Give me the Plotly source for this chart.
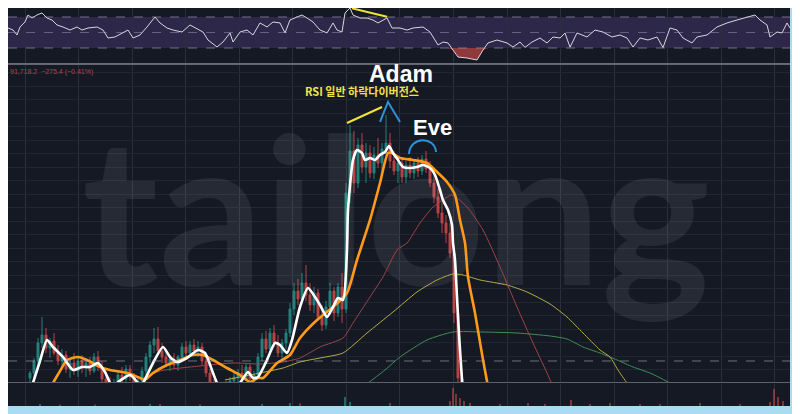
import plotly.graph_objects as go

# ---------------- data (time index t, price units) ----------------
candle_t = list(range(30, 467, 4))
candle_open = [5, 10, 22, 40, 48, 35, 42, 30, 22, 28, 14, 20, 12, 22, 16, 20, 12, 26, 16, 4,
               -4, -8, 0, 8, 4, 14, 6, -4, 2, 12, 26, 38, 44, 32, 26, 20, 24, 18, 26, 36,
               30, 38, 32, 36, 22, 10, -2, -8, -14, -10, -2, 2, 6, 10, 4, 16, 4, 8, 26, 44,
               34, 50, 40, 30, 40, 50, 74, 92, 84, 100, 88, 78, 90, 66, 58, 76, 92, 70, 96, 74,
               190, 232, 200, 238, 216, 230, 210, 228, 220, 234, 240, 222, 212, 220, 206, 218, 210, 220, 212, 224,
               214, 200, 186, 170, 160, 150, 130, 70, 5, -30]
candle_high = [12, 25, 45, 66, 55, 45, 50, 38, 34, 32, 24, 30, 26, 28, 24, 26, 30, 32, 22, 10,
               6, 4, 12, 16, 18, 18, 10, 6, 16, 30, 42, 55, 56, 40, 34, 28, 30, 28, 40, 42,
               42, 44, 42, 40, 26, 14, 4, 0, -4, 2, 6, 10, 14, 18, 20, 20, 12, 30, 50, 52,
               55, 58, 48, 44, 54, 80, 100, 104, 110, 118, 100, 96, 94, 78, 82, 100, 96, 100, 110, 200,
               258, 252, 245, 250, 240, 238, 236, 245, 240, 268, 250, 232, 226, 224, 222, 226, 224, 226, 228, 232,
               222, 212, 194, 180, 168, 160, 138, 80, 12, -20]
candle_low = [-5, 5, 18, 35, 30, 25, 28, 18, 15, 10, 5, 8, 6, 10, 6, 8, 10, 12, 0, -10,
              -15, -12, -4, 0, 0, 2, -8, -10, -2, 8, 20, 30, 28, 20, 16, 12, 14, 12, 22, 24,
              26, 28, 26, 18, 6, -6, -14, -20, -22, -14, -8, -4, 0, 2, 2, 0, -4, 6, 22, 30,
              30, 36, 26, 24, 34, 46, 68, 78, 80, 82, 72, 70, 62, 52, 54, 70, 62, 66, 60, 70,
              180, 190, 195, 210, 200, 205, 204, 215, 212, 225, 215, 208, 200, 200, 200, 205, 204, 206, 208, 210,
              196, 180, 165, 150, 140, 125, 60, -10, -40, -60]
candle_close = [10, 22, 40, 48, 35, 42, 30, 22, 28, 14, 20, 12, 22, 16, 20, 12, 26, 16, 4, -4,
                -8, 0, 8, 4, 14, 6, -4, 2, 12, 26, 38, 44, 32, 26, 20, 24, 18, 26, 36, 30,
                38, 32, 36, 22, 10, -2, -8, -14, -10, -2, 2, 6, 10, 4, 16, 4, 8, 26, 44, 34,
                50, 40, 30, 40, 50, 74, 92, 84, 100, 88, 78, 90, 66, 58, 76, 92, 70, 96, 74, 190,
                232, 200, 238, 216, 230, 210, 228, 220, 234, 240, 222, 212, 220, 206, 218, 210, 220, 212, 224, 214,
                200, 186, 170, 160, 150, 130, 70, 5, -30, -50]

# short MA (white)
ma_white_t = [33, 40, 47, 53, 63, 73, 82, 90, 98, 105, 110, 113, 117, 130, 138, 140, 143, 153, 163, 170,
              177, 187, 198, 205, 213, 217, 225, 235, 240, 248, 253, 258, 267, 275, 280, 287, 292, 300, 308, 315,
              320, 327, 333, 338, 343, 347, 348, 353, 357, 362, 365, 370, 375, 380, 385, 389, 393, 398, 403, 410,
              417, 423, 430, 435, 440, 443, 448, 452, 453, 455, 458, 462, 466]
ma_white = [0, 22, 43, 36, 26, 13, 16, 16, 20, 11, 0, -5, 0, 8, 0, -3, 0, 20, 36, 26,
            21, 25, 33, 30, 10, 0, -15, -5, 0, 11, 5, 6, 23, 40, 38, 30, 43, 76, 95, 86,
            78, 66, 76, 85, 83, 133, 173, 223, 233, 230, 223, 225, 223, 228, 231, 237, 230, 223, 216, 215,
            216, 218, 215, 208, 193, 183, 173, 158, 140, 123, 66, 3, -40]

# mid MA (orange)
ma_orange_t = [53, 60, 67, 78, 87, 100, 110, 127, 140, 145, 153, 167, 180, 193, 203, 213, 227, 240, 250, 258,
               263, 277, 290, 300, 317, 333, 347, 357, 370, 380, 388, 392, 400, 413, 427, 437, 447, 455, 460, 465,
               468, 475, 482, 488, 492]
ma_orange = [0, 12, 23, 26, 23, 16, 13, 10, 5, 3, 10, 18, 23, 28, 28, 23, 15, 8, 1, 5,
             5, 20, 28, 45, 63, 76, 90, 123, 163, 200, 230, 230, 225, 223, 220, 211, 201, 188, 163, 140,
             106, 70, 29, -3, -20]

# long MAs (thin)
ma_red_t = [140, 160, 200, 233, 260, 283, 300, 320, 343, 353, 370, 383, 397, 407, 420, 433, 440, 452, 467, 483,
            500, 517, 533, 547, 555]
ma_red = [3, 12, 17, 20, 19, 21, 25, 36, 45, 60, 86, 106, 133, 140, 160, 176, 181, 188, 176, 153,
          116, 76, 40, 10, -8]
ma_yellow_t = [225, 260, 283, 300, 320, 343, 367, 393, 417, 437, 453, 463, 480, 507, 527, 550, 567, 583, 600, 610,
               618, 627, 632]
ma_yellow = [3, 10, 15, 21, 25, 30, 50, 71, 91, 103, 109, 108, 103, 98, 91, 79, 66, 50, 33, 26,
             13, 0, -6]
ma_green_t = [350, 368, 385, 400, 427, 453, 483, 517, 550, 567, 583, 600, 617, 633, 650, 670, 676]
ma_green = [-12, 0, 13, 26, 43, 51, 51, 50, 47, 44, 36, 30, 23, 16, 10, 0, -4]

# RSI
rsi_t = [8, 13, 17, 20, 25, 28, 32, 37, 42, 47, 52, 57, 63, 70, 77, 82, 88, 97, 103, 108,
         115, 123, 128, 133, 140, 147, 155, 160, 167, 173, 182, 190, 195, 203, 208, 217, 223, 230, 233, 240,
         247, 253, 260, 267, 273, 280, 285, 290, 297, 302, 307, 313, 320, 327, 333, 337, 342, 345, 350, 353,
         360, 367, 373, 378, 387, 392, 400, 407, 413, 423, 430, 438, 443, 448, 453, 458, 467, 477, 483, 488,
         497, 507, 513, 520, 525, 532, 540, 547, 553, 560, 565, 570, 577, 587, 595, 603, 612, 620, 627, 633,
         640, 648, 657, 663, 670, 677, 683, 692, 697, 707, 717, 727, 737, 747, 755, 760, 767, 770, 777, 782,
         787, 790]
rsi = [55.8, 53.2, 46.8, 57.1, 63.5, 72.6, 68.7, 72.6, 75.2, 68.7, 66.1, 59.7, 57.1, 53.2, 57.1, 53.2, 55.8, 57.1, 53.2, 42.9,
       44.2, 49.4, 53.2, 42.9, 46.8, 57.1, 70.0, 62.3, 55.8, 53.2, 50.6, 59.7, 55.8, 50.6, 40.3, 31.3, 37.7, 49.4, 37.7, 50.6,
       53.2, 46.8, 62.3, 57.1, 63.5, 62.3, 49.4, 66.1, 70.0, 72.6, 68.7, 63.5, 53.2, 49.4, 62.3, 53.2, 50.6, 75.2, 81.6, 72.6,
       68.7, 68.7, 66.1, 62.3, 68.7, 55.8, 55.8, 53.2, 55.8, 57.1, 50.6, 33.9, 37.7, 36.5, 27.4, 18.4, 17.1, 14.5, 27.4, 36.5,
       40.3, 36.5, 31.3, 37.7, 30.8, 37.7, 42.9, 36.5, 44.2, 42.9, 49.4, 31.0, 49.4, 44.2, 53.2, 50.6, 44.2, 46.8, 42.9, 31.3,
       42.9, 40.3, 44.2, 30.5, 55.8, 53.2, 42.9, 36.5, 44.2, 46.8, 57.1, 62.3, 66.1, 70.0, 72.6, 66.1, 59.7, 44.2, 50.6, 49.4,
       62.3, 55.8]

# volume
vol_t = [40, 60, 95, 150, 160, 200, 262, 290, 300, 345, 350, 390, 450, 453, 456, 460, 464, 470,
         500, 528, 545, 571, 590, 610, 640, 660, 700, 740, 770, 774, 778, 783]
vol = [2, 1.5, 1.5, 2, 2, 1.5, 2, 3, 2.5, 9, 4, 3, 5, 18, 12, 8, 5, 3,
       2, 3, 2, 6, 2, 3, 2, 2, 3, 2, 4, 17, 9, 5]
vol_up = [1, 0, 0, 1, 0, 0, 1, 1, 0, 1, 1, 0, 0, 0, 0, 0, 0, 0,
          0, 0, 0, 0, 0, 0, 0, 0, 0, 0, 0, 0, 0, 0]

# ---------------- figure ----------------
BG = "#151924"
UP = "#26a69a"
DN = "#ef5350"

fig = go.Figure()

# watermark (drawn first so it sits behind everything)
fig.add_trace(go.Scatter(x=[396], y=[149], mode="text", text=["tailong"], xaxis="x", yaxis="y",
                         textfont=dict(family="Lato", size=206, color="rgba(255,255,255,0.075)", weight="bold"),
                         cliponaxis=False, showlegend=False, hoverinfo="skip"))

fig.add_trace(go.Candlestick(
    x=candle_t, open=candle_open, high=candle_high, low=candle_low, close=candle_close,
    xaxis="x", yaxis="y", opacity=0.75, whiskerwidth=0,
    increasing=dict(line=dict(color=UP, width=1), fillcolor=UP),
    decreasing=dict(line=dict(color=DN, width=1), fillcolor=DN),
    showlegend=False, hoverinfo="skip"))

for tt, vv, col, w in [(ma_green_t, ma_green, "#3f8f58", 1),
                       (ma_yellow_t, ma_yellow, "#b4ad45", 1),
                       (ma_red_t, ma_red, "#9c4448", 1),
                       (ma_orange_t, ma_orange, "#ff9a1a", 2.6),
                       (ma_white_t, ma_white, "#ffffff", 2.6)]:
    fig.add_trace(go.Scatter(x=tt, y=vv, mode="lines", xaxis="x", yaxis="y",
                             line=dict(color=col, width=w, shape="spline", smoothing=0.6),
                             showlegend=False, hoverinfo="skip"))

# RSI oversold fill
fx = [t for t in rsi_t if 448 <= t <= 488]
fy = [min(v, 30) for t, v in zip(rsi_t, rsi) if 448 <= t <= 488]
fig.add_trace(go.Scatter(x=fx, y=[30] * len(fx), mode="lines", line=dict(width=0),
                         xaxis="x2", yaxis="y2", showlegend=False, hoverinfo="skip"))
fig.add_trace(go.Scatter(x=fx, y=fy, mode="lines", line=dict(width=0), fill="tonexty",
                         fillcolor="rgba(175,65,65,0.8)",
                         xaxis="x2", yaxis="y2", showlegend=False, hoverinfo="skip"))
fig.add_trace(go.Scatter(x=rsi_t, y=rsi, mode="lines", line=dict(color="#d6d6de", width=1),
                         xaxis="x2", yaxis="y2", showlegend=False, hoverinfo="skip"))

# Volume
fig.add_trace(go.Bar(x=vol_t, y=vol, width=1.6, xaxis="x3", yaxis="y3",
                     marker=dict(color=["rgba(38,166,154,0.7)" if u else "rgba(239,83,80,0.6)" for u in vol_up],
                                 line=dict(width=0)),
                     showlegend=False, hoverinfo="skip"))

grid_x = dict(showgrid=True, gridcolor="#2b2f3b", gridwidth=1, tick0=25, dtick=53.57,
              showticklabels=False, zeroline=False, ticks="", showline=False)

fig.update_layout(
    width=800, height=414,
    margin=dict(l=0, r=18, t=0, b=16),
    paper_bgcolor="#a8dcf3", plot_bgcolor=BG,
    xaxis=dict(domain=[0, 1], range=[8, 790], anchor="y", rangeslider=dict(visible=False), **grid_x),
    xaxis2=dict(domain=[0, 1], matches="x", anchor="y2", **grid_x),
    xaxis3=dict(domain=[0, 1], matches="x", anchor="y3", **grid_x),
    yaxis=dict(domain=[0.0578, 0.8568], range=[0, 318], tick0=13, dtick=13.5, showgrid=True,
               gridcolor="#222633", showticklabels=False, zeroline=False, ticks=""),
    yaxis2=dict(domain=[0.8618, 1.0], range=[10.65, 81.6], showgrid=False, showticklabels=False,
                zeroline=False, ticks=""),
    yaxis3=dict(domain=[0, 0.0553], range=[0, 22], showgrid=False, showticklabels=False,
                zeroline=False, ticks=""),
    shapes=[
        dict(type="rect", xref="paper", yref="paper", x0=0, x1=1, y0=0, y1=1,
             fillcolor=BG, line=dict(width=0), layer="below"),
        dict(type="rect", xref="paper", yref="y2", x0=0, x1=1, y0=30, y1=70,
             fillcolor="rgba(126,87,194,0.24)", line=dict(width=0), layer="below"),
        dict(type="line", xref="paper", yref="y2", x0=0, x1=1, y0=70, y1=70,
             line=dict(color="rgba(170,165,200,0.6)", width=1, dash="dash")),
        dict(type="line", xref="paper", yref="y2", x0=0, x1=1, y0=50, y1=50,
             line=dict(color="rgba(170,165,200,0.45)", width=1, dash="dash")),
        dict(type="line", xref="paper", yref="y2", x0=0, x1=1, y0=30, y1=30,
             line=dict(color="rgba(170,165,200,0.6)", width=1, dash="dash")),
        dict(type="line", xref="paper", yref="paper", x0=0, x1=1, y0=0.8593, y1=0.8593,
             line=dict(color="#b8bac2", width=1)),
        dict(type="line", xref="paper", yref="y", x0=0, x1=1, y0=22, y1=22,
             line=dict(color="rgba(170,172,182,0.6)", width=1, dash="dash")),
        dict(type="line", xref="paper", yref="y", x0=0, x1=1, y0=0, y1=0,
             line=dict(color="#5f626d", width=2)),
        # RSI divergence line
        dict(type="line", xref="x2", yref="y2", x0=352, y0=81.2, x1=387, y1=70.4,
             line=dict(color="#f0e33c", width=2)),
        # price divergence line
        dict(type="line", xref="x", yref="y", x0=347, y0=260, x1=382, y1=276,
             line=dict(color="#f0e33c", width=2)),
        # Adam caret
        dict(type="path", xref="x", yref="y", path="M 380 261 L 388 281 L 400 261",
             line=dict(color="#2b93d8", width=2)),
        # Eve arc
        dict(type="path", xref="x", yref="y", path="M 409 229 C 410 247, 435 247, 436 231",
             line=dict(color="#2b93d8", width=2)),
    ],
    annotations=[
        dict(text="Adam", xref="x", yref="y", x=401, y=309, showarrow=False,
             font=dict(family="Liberation Sans", size=23, color="#ffffff", weight="bold")),
        dict(text="RSI 일반 하락다이버전스", xref="x", yref="y", x=362, y=292, showarrow=False,
             font=dict(family="Noto Sans CJK KR", size=11, color="#f3e24a", weight="bold")),
        dict(text="Eve", xref="x", yref="y", x=432, y=255, showarrow=False,
             font=dict(family="Liberation Sans", size=22, color="#ffffff", weight="bold")),
        dict(text="91,718.2  −275.4 (−0.41%)", xref="paper", yref="y", x=0.0, y=311,
             xanchor="left", showarrow=False,
             font=dict(family="Liberation Sans", size=7, color="#b8424a")),
    ],
)

fig.write_html("out.html")
